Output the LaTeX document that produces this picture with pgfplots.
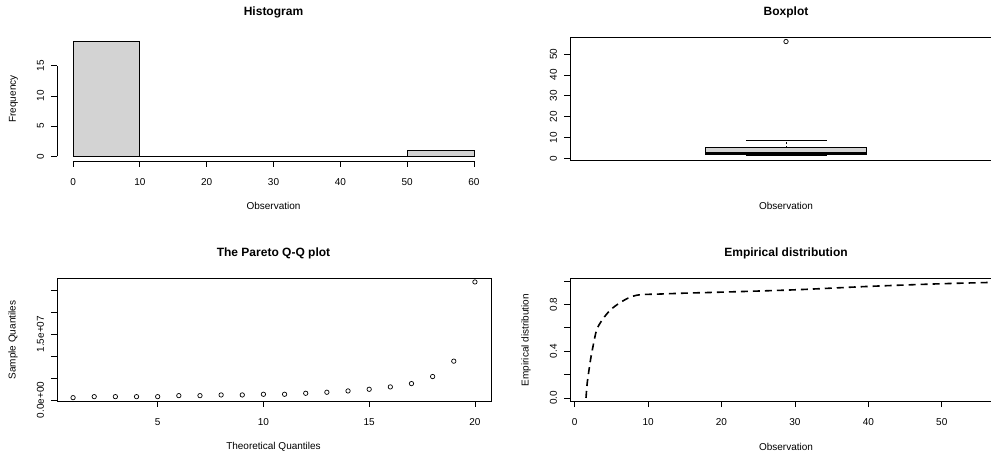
\documentclass[border=0pt]{standalone}
\usepackage{pgfplots}
\pgfplotsset{compat=1.18}
\usepackage{fontspec}
\setmainfont{Liberation Sans}
\definecolor{lgray}{RGB}{211,211,211}
\pgfplotsset{
  rstyle/.style={
    scale only axis,
    anchor=south west,
    /pgf/number format/assume math mode=true,
    tick align=outside,
    major tick length=6pt,
    tick style={black, line width=0.8pt},
    axis line style={black, line width=0.8pt},
    ticklabel style={font=\fontsize{10}{12}\selectfont},
    xticklabel style={yshift=-8pt},
    yticklabel style={rotate=90, anchor=south, inner ysep=6.8pt},
    tick pos=left,
    clip=false,
  },
}
\begin{document}
\begin{tikzpicture}
\useasboundingbox (0pt,0pt) rectangle (991pt,458pt);
\clip (0pt,0pt) rectangle (991pt,458pt);

% ---------------- Histogram ----------------
\begin{axis}[rstyle,
  at={(57pt,297pt)}, width=433pt, height=124pt,
  xmin=-2.4, xmax=62.4, ymin=-0.76, ymax=19.76,
  axis x line*=bottom, axis y line*=left,
  x axis line style={-, shorten <=16pt, shorten >=16pt},
  y axis line style={-, shorten <=4.6pt, shorten >=28.8pt},
  xtick={0,10,...,60}, ytick={0,5,10,15},
]
\addplot[ybar interval, fill=lgray, draw=black, line width=0.8pt]
  coordinates {(0,19) (10,0) (20,0) (30,0) (40,0) (50,1) (60,1)};
\end{axis}

% ---------------- Boxplot ----------------
\begin{axis}[rstyle,
  at={(570pt,298pt)}, width=432pt, height=123pt,
  xmin=0.5, xmax=1.5, ymin=-0.68, ymax=58.18,
  xtick=\empty, ytick={0,10,...,50},
]
% whiskers
\addplot[black, line width=0.8pt, dash pattern=on 2pt off 2pt] coordinates {(1,5.3) (1,8.7)};
\addplot[black, line width=0.8pt, dash pattern=on 2pt off 2pt] coordinates {(1,1.55) (1,1.9)};
\addplot[black, line width=0.8pt] coordinates {(0.907,8.7) (1.094,8.7)};
\addplot[black, line width=0.8pt] coordinates {(0.907,1.55) (1.094,1.55)};
% box
\addplot[fill=lgray, draw=black, line width=0.8pt]
  coordinates {(0.814,1.9) (1.187,1.9) (1.187,5.3) (0.814,5.3) (0.814,1.9)};
% median
\addplot[black, line width=3pt] coordinates {(0.814,2.5) (1.187,2.5)};
% outlier
\addplot[only marks, mark=o, mark size=2.2pt, black, line width=0.7pt]
  coordinates {(1,56)};
\end{axis}

% ---------------- Q-Q plot ----------------
\begin{axis}[rstyle,
  at={(57pt,57pt)}, width=434pt, height=123pt,
  xmin=0.24, xmax=20.76, ymin=-0.23e6, ymax=27.8e6,
  xtick={5,10,15,20},
  scaled y ticks=false,
  ytick={0,5e6,10e6,15e6,20e6,25e6},
  yticklabels={0.0e+00,,,1.5e+07,,},
]
\addplot[only marks, mark=o, mark size=2.2pt, black, line width=0.7pt]
  coordinates {
  (1,0.53e6) (2,0.76e6) (3,0.76e6) (4,0.76e6) (5,0.76e6)
  (6,0.99e6) (7,0.99e6) (8,1.15e6) (9,1.15e6) (10,1.30e6)
  (11,1.30e6) (12,1.53e6) (13,1.76e6) (14,2.06e6) (15,2.44e6)
  (16,2.98e6) (17,3.74e6) (18,5.34e6) (19,8.85e6) (20,26.9e6)};
\end{axis}

% ---------------- Empirical distribution ----------------
\begin{axis}[rstyle,
  at={(570pt,57pt)}, width=432pt, height=123pt,
  xmin=-0.63, xmax=58.2, ymin=-0.026, ymax=1.026,
  xtick={0,10,...,50},
  ytick={0,0.2,0.4,0.6,0.8,1.0},
  yticklabels={0.0,,0.4,,0.8,},
]
\addplot[black, line width=1.6pt, dash pattern=on 7pt off 5pt, smooth]
  coordinates {
  (1.55,0) (1.7,0.12) (1.95,0.236) (2.2,0.34) (2.49,0.437) (2.99,0.58)
  (3.76,0.668) (4.89,0.754) (6.24,0.817) (7.6,0.863) (8.96,0.883)
  (11.7,0.889) (15.3,0.897) (20,0.905) (30,0.925) (40,0.954)
  (50,0.977) (58,0.99)};
\end{axis}

% ---------------- titles and labels ----------------
\begin{scope}[every node/.style={font=\fontsize{10}{12}\selectfont}]
\node[font=\fontsize{12}{14}\selectfont\bfseries] at (273.5pt,445.5pt) {Histogram};
\node[font=\fontsize{12}{14}\selectfont\bfseries] at (786pt,445.5pt) {Boxplot};
\node[font=\fontsize{12}{14}\selectfont\bfseries] at (273.5pt,204.5pt) {The Pareto Q-Q plot};
\node[font=\fontsize{12}{14}\selectfont\bfseries] at (786pt,204.5pt) {Empirical distribution};
\node at (273.5pt,252pt) {Observation};
\node at (786pt,252pt) {Observation};
\node at (273.5pt,11pt) {Theoretical Quantiles};
\node at (786pt,11pt) {Observation};
\node[rotate=90] at (13.5pt,359pt) {Frequency};
\node[rotate=90] at (13pt,118pt) {Sample Quantiles};
\node[rotate=90] at (526pt,118pt) {Empirical distribution};
\end{scope}
\end{tikzpicture}
\end{document}
